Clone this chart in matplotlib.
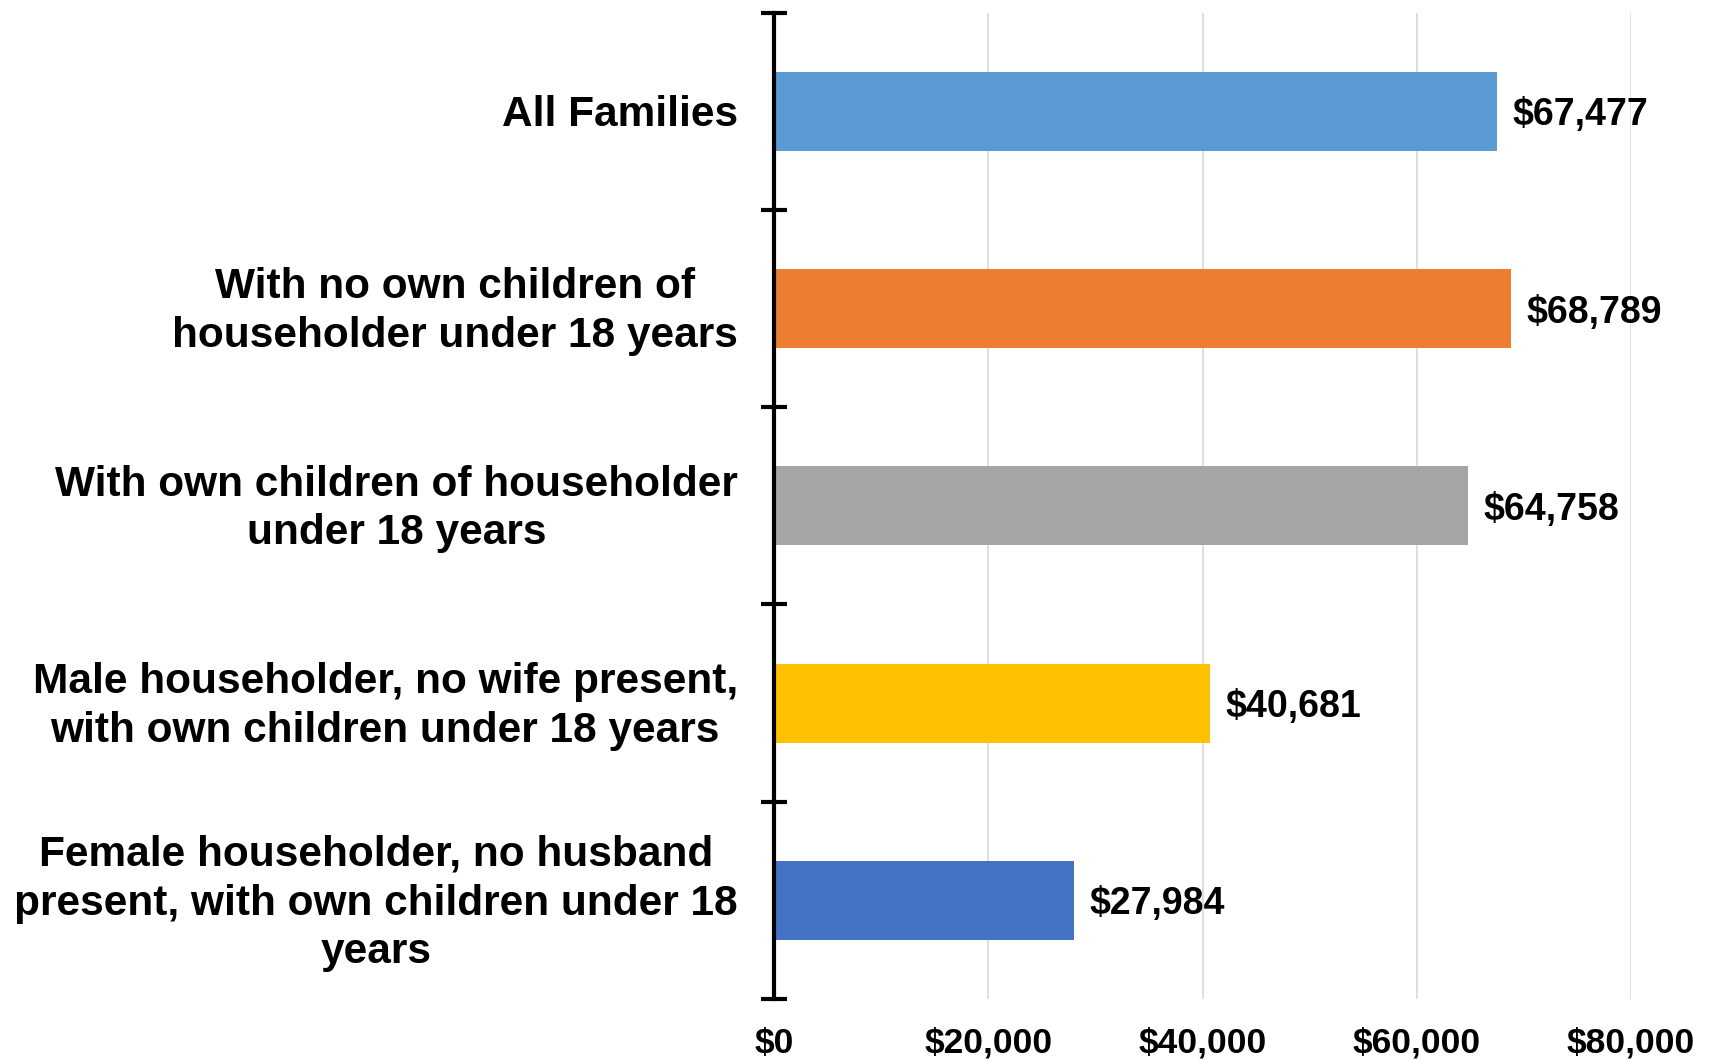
import matplotlib
matplotlib.use("Agg")
import matplotlib.pyplot as plt
from matplotlib.ticker import FuncFormatter, FixedLocator

categories = [
    "All Families",
    "With no own children of\nhouseholder under 18 years",
    "With own children of householder\nunder 18 years",
    "Male householder, no wife present,\nwith own children under 18 years",
    "Female householder, no husband\npresent, with own children under 18\nyears",
]
values = [67477, 68789, 64758, 40681, 27984]
colors = ["#5B9BD5", "#ED7D31", "#A5A5A5", "#FFC000", "#4472C4"]
x_ticks = [0, 20000, 40000, 60000, 80000]

plt.rcParams['font.family'] = ['Liberation Sans', 'DejaVu Sans']
plt.rcParams['font.weight'] = 'bold'

fig = plt.figure(figsize=(17.16, 10.61), dpi=100)
ax = fig.add_axes([774/1716, 1 - 999/1061, (1631 - 774)/1716, (999 - 12.7)/1061])

pos = list(range(len(categories)))
ax.barh(pos, values, height=0.4, color=colors, zorder=3)

ax.set_xlim(0, 80000)
ax.set_ylim(len(categories) - 0.5, -0.5)

for p, v in zip(pos, values):
    ax.annotate(f"${v:,}", xy=(v, p), xytext=(11, 0), textcoords="offset points",
                ha="left", va="center_baseline", fontsize=27, fontweight="bold", color="black")

ax.set_xticks(x_ticks)
ax.xaxis.set_major_formatter(FuncFormatter(lambda x, _: f"${int(x):,}"))
ax.tick_params(axis="x", length=0, pad=20, labelsize=25.5)
for lab in ax.get_xticklabels():
    lab.set_fontweight("bold")
ax.grid(axis="x", color="#d9d9d9", linewidth=1.2, zorder=0)

ax.yaxis.set_major_locator(FixedLocator([i - 0.5 for i in range(len(categories) + 1)]))
ax.set_yticklabels([""] * (len(categories) + 1))
ax.tick_params(axis="y", which="major", direction="inout", length=19, width=3, color="black")
ax.tick_params(axis="y", which="minor", length=0)

for p, cat in zip(pos, categories):
    ax.annotate(cat, xy=(0, p), xycoords=("axes fraction", "data"),
                xytext=(-26, -2.3), textcoords="offset points",
                ha="right", va="center", multialignment="center",
                fontsize=30.5, fontweight="bold", linespacing=1.28, color="black")

for s in ["top", "right", "bottom"]:
    ax.spines[s].set_visible(False)
ax.spines["left"].set_linewidth(3)
ax.spines["left"].set_color("black")
ax.spines["left"].set_zorder(4)

fig.savefig("out.png", dpi=100, facecolor="white")
